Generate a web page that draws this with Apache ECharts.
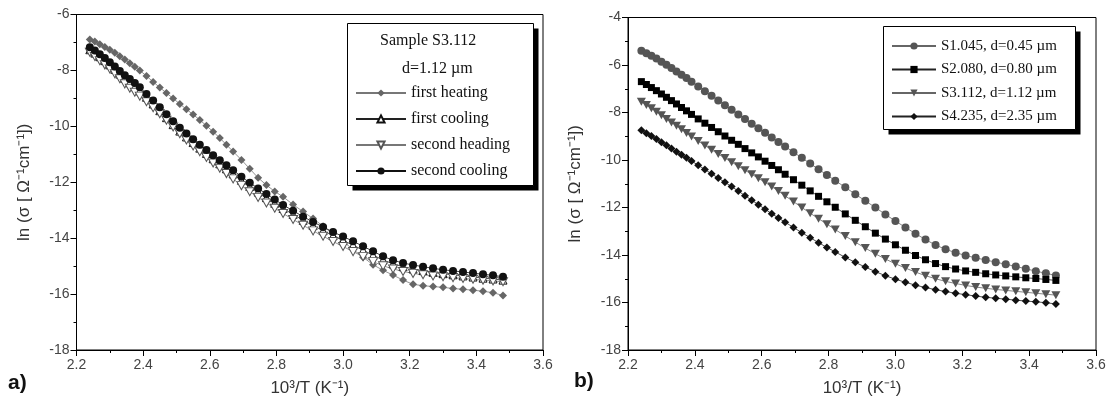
<!DOCTYPE html>
<html>
<head>
<meta charset="utf-8">
<script src="https://cdn.jsdelivr.net/npm/echarts@6/dist/echarts.min.js"></script>
<style>
html,body{margin:0;padding:0;background:#fff;}
#chart{width:1110px;height:411px;}
</style>
</head>
<body>
<div id="chart"></div>
<script>
// 10^3/T values (shared grid)
const xVals = [2.24,2.255,2.27,2.285,2.30,2.315,2.33,2.345,2.36,2.375,2.39,2.41,2.43,2.45,2.47,2.49,2.51,2.53,2.55,2.57,2.59,2.61,2.63,2.65,2.67,2.695,2.72,2.745,2.77,2.795,2.82,2.85,2.88,2.91,2.94,2.97,3.00,3.03,3.06,3.09,3.12,3.15,3.18,3.21,3.24,3.27,3.30,3.33,3.36,3.39,3.42,3.45,3.48];

// Panel a) Sample S3.112
const firstHeating = [-6.89,-6.97,-7.06,-7.16,-7.26,-7.37,-7.49,-7.61,-7.74,-7.87,-8.00,-8.20,-8.41,-8.61,-8.81,-9.00,-9.20,-9.39,-9.58,-9.77,-9.98,-10.19,-10.42,-10.66,-10.90,-11.20,-11.52,-11.84,-12.10,-12.33,-12.52,-12.80,-13.05,-13.30,-13.57,-13.85,-14.12,-14.40,-14.68,-14.95,-15.15,-15.32,-15.50,-15.65,-15.70,-15.73,-15.76,-15.80,-15.83,-15.86,-15.90,-15.95,-16.05];
const firstCooling = [-7.26,-7.38,-7.51,-7.65,-7.80,-7.96,-8.13,-8.29,-8.44,-8.58,-8.73,-8.96,-9.20,-9.44,-9.69,-9.94,-10.17,-10.38,-10.58,-10.78,-10.97,-11.16,-11.34,-11.52,-11.70,-11.93,-12.15,-12.35,-12.55,-12.75,-12.94,-13.15,-13.36,-13.55,-13.73,-13.91,-14.08,-14.25,-14.43,-14.61,-14.78,-14.92,-15.02,-15.10,-15.16,-15.22,-15.27,-15.31,-15.35,-15.39,-15.43,-15.46,-15.50];
const secondHeading = [-7.35,-7.50,-7.65,-7.80,-7.95,-8.12,-8.30,-8.48,-8.64,-8.78,-8.92,-9.12,-9.33,-9.55,-9.78,-10.02,-10.26,-10.49,-10.70,-10.91,-11.11,-11.31,-11.50,-11.69,-11.88,-12.12,-12.34,-12.54,-12.74,-12.93,-13.12,-13.33,-13.54,-13.74,-13.93,-14.12,-14.30,-14.48,-14.66,-14.84,-14.99,-15.10,-15.19,-15.26,-15.31,-15.35,-15.38,-15.41,-15.44,-15.47,-15.50,-15.53,-15.56];
const secondCooling = [-7.17,-7.29,-7.42,-7.56,-7.71,-7.86,-8.02,-8.17,-8.31,-8.45,-8.60,-8.84,-9.08,-9.32,-9.57,-9.82,-10.05,-10.26,-10.46,-10.66,-10.85,-11.03,-11.21,-11.39,-11.57,-11.80,-12.02,-12.22,-12.42,-12.62,-12.81,-13.02,-13.23,-13.42,-13.60,-13.78,-13.94,-14.11,-14.29,-14.47,-14.65,-14.79,-14.89,-14.96,-15.02,-15.08,-15.13,-15.17,-15.21,-15.25,-15.29,-15.33,-15.38];

// Panel b) four samples
const s1 = [-5.40,-5.50,-5.61,-5.73,-5.86,-5.99,-6.13,-6.27,-6.41,-6.55,-6.70,-6.90,-7.10,-7.29,-7.49,-7.69,-7.88,-8.08,-8.27,-8.47,-8.66,-8.85,-9.05,-9.24,-9.43,-9.67,-9.91,-10.15,-10.39,-10.63,-10.87,-11.15,-11.44,-11.72,-12.00,-12.29,-12.57,-12.84,-13.10,-13.35,-13.58,-13.76,-13.90,-14.02,-14.12,-14.21,-14.30,-14.39,-14.48,-14.58,-14.68,-14.77,-14.86];
const s2 = [-6.70,-6.82,-6.95,-7.08,-7.22,-7.36,-7.50,-7.64,-7.79,-7.93,-8.08,-8.27,-8.45,-8.63,-8.81,-8.99,-9.17,-9.34,-9.52,-9.70,-9.87,-10.05,-10.23,-10.41,-10.60,-10.83,-11.06,-11.30,-11.53,-11.76,-11.99,-12.27,-12.54,-12.81,-13.08,-13.33,-13.57,-13.80,-14.02,-14.20,-14.36,-14.49,-14.59,-14.67,-14.73,-14.79,-14.84,-14.88,-14.92,-14.96,-14.99,-15.03,-15.07];
const s3 = [-7.55,-7.68,-7.82,-7.97,-8.12,-8.27,-8.42,-8.56,-8.71,-8.86,-9.01,-9.20,-9.39,-9.57,-9.75,-9.92,-10.09,-10.26,-10.43,-10.60,-10.77,-10.94,-11.12,-11.31,-11.51,-11.75,-12.00,-12.24,-12.47,-12.70,-12.93,-13.20,-13.46,-13.71,-13.95,-14.17,-14.37,-14.55,-14.72,-14.87,-15.00,-15.11,-15.20,-15.28,-15.35,-15.40,-15.45,-15.49,-15.53,-15.57,-15.61,-15.65,-15.69];
const s4 = [-8.75,-8.87,-8.99,-9.12,-9.25,-9.38,-9.52,-9.65,-9.78,-9.91,-10.04,-10.22,-10.40,-10.58,-10.76,-10.94,-11.12,-11.31,-11.50,-11.69,-11.88,-12.07,-12.26,-12.44,-12.62,-12.84,-13.06,-13.27,-13.48,-13.68,-13.87,-14.10,-14.31,-14.51,-14.70,-14.87,-15.02,-15.15,-15.27,-15.37,-15.46,-15.54,-15.61,-15.67,-15.73,-15.78,-15.82,-15.86,-15.90,-15.94,-15.97,-16.01,-16.06];

const namesA = ['first heating','first cooling','second heading','second cooling'];
const namesB = ['S1.045, d=0.45 \u00b5m','S2.080, d=0.80 \u00b5m','S3.112, d=1.12 \u00b5m','S4.235, d=2.35 \u00b5m'];
const xTicks = {min:2.2, max:3.6, interval:0.2};

const zip = ys => xVals.map((x,i)=>[x, ys[i]]);
const downTri = 'path://M0,0 L10,0 L5,9 Z';

const axisLabelStyle = {color:'#444', fontFamily:'Liberation Sans, Arial, sans-serif', fontSize:14};
const nameStyle = {color:'#333', fontFamily:'Liberation Sans, Arial, sans-serif', fontSize:17};

function xAxis(gi){
  return {type:'value', gridIndex:gi, min:xTicks.min, max:xTicks.max, interval:xTicks.interval,
    name:'10\u00b3/T (K\u207b\u00b9)', nameLocation:'middle', nameGap:30, nameTextStyle:nameStyle,
    axisLine:{show:true, onZero:false, lineStyle:{color:'#000', width:1}},
    axisTick:{show:true, inside:false, length:6, lineStyle:{color:'#000'}},
    minorTick:{show:true, splitNumber:2, length:3, lineStyle:{color:'#000'}},
    axisLabel:Object.assign({margin:8, formatter:v=>v.toFixed(1)}, axisLabelStyle),
    splitLine:{show:false}};
}
function yAxis(gi, min, max, nameGap){
  return {type:'value', gridIndex:gi, min:min, max:max, interval:2,
    name:'ln (\u03c3 [ \u03a9\u207b\u00b9cm\u207b\u00b9])', nameLocation:'middle', nameGap:nameGap, nameTextStyle:nameStyle,
    axisLine:{show:true, onZero:false, lineStyle:{color:'#000', width:1}},
    axisTick:{show:true, inside:false, length:6, lineStyle:{color:'#000'}},
    minorTick:{show:true, splitNumber:2, length:3, lineStyle:{color:'#000'}},
    axisLabel:Object.assign({margin:7}, axisLabelStyle),
    splitLine:{show:false}};
}

const serif = 'Liberation Serif, Times New Roman, serif';
function legendBox(x, y, w, h){
  return [
    {type:'rect', z:2, shape:{x:x+5, y:y+5, width:w, height:h}, style:{fill:'#000'}},
    {type:'rect', z:3, shape:{x:x, y:y, width:w, height:h}, style:{fill:'#fff', stroke:'#000', lineWidth:1}}
  ];
}
const chart = echarts.init(document.getElementById('chart'), null, {renderer:'canvas'});
chart.setOption({
  animation:false,
  backgroundColor:'#fff',
  grid:[
    {left:76.5, right:567, top:14.5, bottom:61, show:true, borderColor:'#000', borderWidth:1},
    {left:628, right:14, top:17.5, bottom:61, show:true, borderColor:'#000', borderWidth:1}
  ],
  xAxis:[xAxis(0), xAxis(1)],
  yAxis:[yAxis(0,-18,-6,44), yAxis(1,-18,-4,44)],
  legend:[
    {data:namesA, orient:'vertical', left:347, top:23, padding:[61,20,8,8], z:10,
     itemWidth:50, itemHeight:9, itemGap:8,
     textStyle:{fontFamily:serif, fontSize:16, color:'#111', lineHeight:18}},
    {data:namesB, orient:'vertical', left:883, top:26, padding:[11,16,5,8], z:10,
     itemWidth:44, itemHeight:9, itemGap:5.5,
     textStyle:{fontFamily:serif, fontSize:15, color:'#111', lineHeight:18}}
  ],
  graphic:[
    ...legendBox(347.5, 23.5, 186, 162),
    ...legendBox(883.5, 26.5, 192, 103),
    {type:'text', left:380, top:33, z:100, style:{text:'Sample S3.112', font:'16px '+serif, fill:'#111'}},
    {type:'text', left:402, top:61, z:100, style:{text:'d=1.12 \u00b5m', font:'16px '+serif, fill:'#111'}},
    {type:'text', left:8, top:373, style:{text:'a)', font:'bold 21px Liberation Sans, Arial, sans-serif', fill:'#111'}},
    {type:'text', left:574, top:371, style:{text:'b)', font:'bold 21px Liberation Sans, Arial, sans-serif', fill:'#111'}}
  ],
  series:[
    {name:namesA[0], type:'line', xAxisIndex:0, yAxisIndex:0, data:zip(firstHeating), symbol:'diamond', symbolSize:8,
     itemStyle:{color:'#666'}, lineStyle:{color:'#777', width:0.8}},
    {name:namesA[1], type:'line', xAxisIndex:0, yAxisIndex:0, data:zip(firstCooling), symbol:'triangle', symbolSize:8,
     itemStyle:{color:'#fff', borderColor:'#111', borderWidth:1}, lineStyle:{color:'#222', width:0.8}},
    {name:namesA[2], type:'line', xAxisIndex:0, yAxisIndex:0, data:zip(secondHeading), symbol:downTri, symbolSize:[9,8],
     itemStyle:{color:'#fff', borderColor:'#555', borderWidth:1}, lineStyle:{color:'#777', width:0.8}},
    {name:namesA[3], type:'line', xAxisIndex:0, yAxisIndex:0, data:zip(secondCooling), symbol:'circle', symbolSize:8,
     itemStyle:{color:'#111'}, lineStyle:{color:'#111', width:0.8}},
    {name:namesB[0], type:'line', xAxisIndex:1, yAxisIndex:1, data:zip(s1), symbol:'circle', symbolSize:8,
     itemStyle:{color:'#555'}, lineStyle:{color:'#666', width:0.8}},
    {name:namesB[1], type:'line', xAxisIndex:1, yAxisIndex:1, data:zip(s2), symbol:'rect', symbolSize:7,
     itemStyle:{color:'#000'}, lineStyle:{color:'#222', width:0.8}},
    {name:namesB[2], type:'line', xAxisIndex:1, yAxisIndex:1, data:zip(s3), symbol:downTri, symbolSize:[9,8],
     itemStyle:{color:'#555'}, lineStyle:{color:'#666', width:0.8}},
    {name:namesB[3], type:'line', xAxisIndex:1, yAxisIndex:1, data:zip(s4), symbol:'diamond', symbolSize:8,
     itemStyle:{color:'#111'}, lineStyle:{color:'#222', width:0.8}}
  ]
});
</script>
</body>
</html>
